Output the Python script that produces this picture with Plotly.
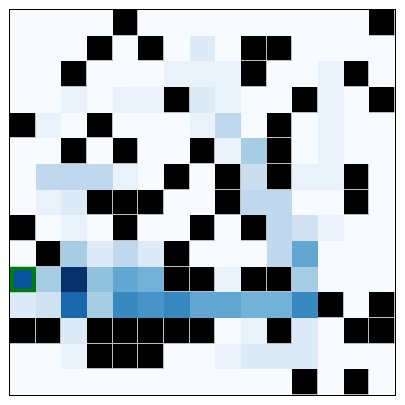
import plotly.graph_objects as go

W = None  # wall cell

# Value grid (row 0 at top), None marks a wall
row00 = [0, 0, 0, 0, W, 0, 0, 0, 0, 0, 0, 0, 0, 0, W]
row01 = [0, 0, 0, W, 0, W, 0, 0.13, 0, W, W, 0, 0, 0, 0]
row02 = [0, 0, W, 0, 0, 0, 0.07, 0.07, 0.07, W, 0, 0, 0.07, W, 0]
row03 = [0, 0, 0.07, 0, 0.07, 0.07, W, 0.13, 0.07, 0, 0, W, 0.07, 0, W]
row04 = [W, 0.07, 0, W, 0, 0, 0, 0.07, 0.27, 0, W, 0, 0.07, 0, 0]
row05 = [0, 0, W, 0, W, 0, 0, W, 0.07, 0.35, W, 0, 0.07, 0, 0]
row06 = [0, 0.27, 0.27, 0.27, 0.07, 0, W, 0, W, 0.23, W, 0.07, 0.07, W, 0]
row07 = [0, 0.07, 0.13, W, W, W, 0, 0, W, 0.27, 0.27, 0, 0, W, 0]
row08 = [W, 0, 0.07, 0, W, 0, 0, W, 0, W, 0.27, 0.2, 0.07, 0, 0]
row09 = [0, W, 0.35, 0.13, 0.27, 0.13, W, 0, 0, 0, 0.27, 0.53, 0, 0, 0]
row10 = [0.87, 0.355, 1.0, 0.41, 0.53, 0.48, W, W, 0.07, W, W, 0.35, 0, 0, 0]
row11 = [0.13, 0.2, 0.79, 0.35, 0.66, 0.61, 0.66, 0.53, 0.53, 0.48, 0.48, 0.66, W, 0, W]
row12 = [W, W, 0.13, W, W, W, W, W, 0, 0.07, W, 0.13, 0, W, W]
row13 = [0, 0, 0.07, W, W, W, 0, 0, 0.07, 0.13, 0.13, 0.13, 0, 0, 0]
row14 = [0, 0, 0, 0, 0, 0, 0, 0, 0, 0, 0, W, 0, W, 0]

values = [row00, row01, row02, row03, row04, row05, row06, row07,
          row08, row09, row10, row11, row12, row13, row14]

agent_row = 10
agent_col = 0

n_rows = len(values)
n_cols = len(values[0])

value_z = [[(v if v is not None else 0) for v in r] for r in values]
wall_z = [[(1 if v is None else None) for v in r] for r in values]

blues = [[0.0, '#f7fbff'], [0.125, '#deebf7'], [0.25, '#c6dbef'],
         [0.375, '#9ecae1'], [0.5, '#6baed6'], [0.625, '#4292c6'],
         [0.75, '#2171b5'], [0.875, '#08519c'], [1.0, '#08306b']]

fig = go.Figure()
fig.add_trace(go.Heatmap(z=value_z, colorscale=blues, zmin=0, zmax=1,
                         showscale=False, hoverinfo='skip'))
fig.add_trace(go.Heatmap(z=wall_z, colorscale=[[0, '#bdbdbd'], [1, '#bdbdbd']],
                         zmin=0, zmax=1, showscale=False, hoverinfo='skip'))
fig.add_trace(go.Heatmap(z=wall_z, colorscale=[[0, '#000000'], [1, '#000000']],
                         zmin=0, zmax=1, showscale=False, xgap=1, ygap=1,
                         hoverinfo='skip'))

inset = 0.07
fig.add_shape(type='rect', xref='x', yref='y',
              x0=agent_col - 0.5 + inset, x1=agent_col + 0.5 - inset,
              y0=agent_row - 0.5 + inset, y1=agent_row + 0.5 - inset,
              line=dict(color='#008000', width=3.5))

fig.update_xaxes(range=[-0.5, n_cols - 0.5], showticklabels=False, ticks='',
                 showgrid=False, zeroline=False, showline=True, linecolor='black',
                 linewidth=1, mirror=True)
fig.update_yaxes(range=[n_rows - 0.5, -0.5], showticklabels=False, ticks='',
                 showgrid=False, zeroline=False, showline=True, linecolor='black',
                 linewidth=1, mirror=True)

fig.update_layout(width=405, height=405, margin=dict(l=10, r=10, t=10, b=10),
                  paper_bgcolor='white', plot_bgcolor='white', showlegend=False)

fig.write_html("out.html")
